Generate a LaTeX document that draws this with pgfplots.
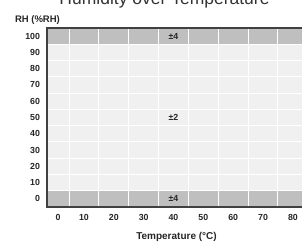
\documentclass[border=0pt]{standalone}
\usepackage{fontspec}
\setmainfont{Liberation Sans}
\usepackage{pgfplots}
\pgfplotsset{compat=1.18}
\definecolor{rowgray}{HTML}{BFBFBF}
\definecolor{lightbg}{HTML}{F0F0F0}
\definecolor{axisdark}{HTML}{404040}
\begin{document}
\begin{tikzpicture}[x=1pt,y=1pt]
\useasboundingbox (0,0) rectangle (302,241);
\clip (0,0) rectangle (302,241);
\begin{axis}[
  at={(47pt,34pt)}, anchor=south west,
  scale only axis, width=290.7pt, height=179pt,
  xmin=-2.37, xmax=95, ymin=-5, ymax=105,
  /pgf/number format/assume math mode=true,
  axis background/.style={fill=lightbg},
  axis on top,
  axis line style={draw=axisdark, line width=1.6pt},
  xtick={1.31,10,20,30,40,50,60,70,80},
  xticklabels={0,10,20,30,40,50,60,70,80},
  ytick={0,10,...,100},
  yticklabels={0,10,20,30,40,50,60,70,80,90,100},
  minor xtick={5,15,...,95},
  minor ytick={5,15,...,95},
  grid=minor,
  minor grid style={white, line width=1pt},
  major tick length=0pt, minor tick length=0pt,
  tick label style={font=\fontsize{8.8}{10}\selectfont\bfseries, text=black!85},
  yticklabel style={xshift=-3.5pt},
  xticklabel style={yshift=-4pt},
  clip=false,
]
\addplot[fill=rowgray, draw=none] coordinates {(-2.37,95) (95,95) (95,105) (-2.37,105)} -- cycle;
\addplot[fill=rowgray, draw=none] coordinates {(-2.37,-5) (95,-5) (95,5) (-2.37,5)} -- cycle;
\addplot[draw=none, mark=none, nodes near coords, point meta=explicit symbolic,
  nodes near coords align=center,
  every node near coord/.append style={font=\fontsize{8.8}{10}\selectfont\bfseries, text=black!85, anchor=center}]
  coordinates {(40,100) [±4] (40,50) [±2] (40,0) [±4]};
\end{axis}
\node[anchor=base, font=\fontsize{17.5}{20}\selectfont, text=black!80] at (164.5,236) {Humidity over Temperature};
\node[anchor=base west, font=\fontsize{9.5}{11}\selectfont\bfseries, text=black!85] at (11.5,218) {RH (\%RH)};
\node[anchor=base, font=\fontsize{10}{11}\selectfont\bfseries, text=black!85] at (176.5,1.8) {Temperature (°C)};
\end{tikzpicture}
\end{document}
